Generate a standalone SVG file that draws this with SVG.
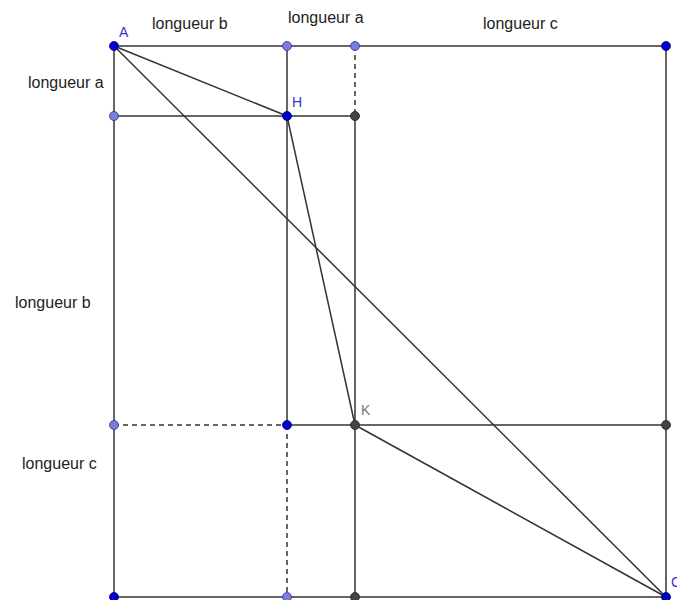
<svg xmlns="http://www.w3.org/2000/svg" width="677" height="600" viewBox="0 0 677 600">
<style>
.ln{stroke:#333;stroke-width:1.5;fill:none}
.ds{stroke:#333;stroke-width:1.5;fill:none;stroke-dasharray:5,4}
.lbl{font-family:"Liberation Sans",Arial,sans-serif;font-size:16px;fill:#222}
.pl{font-family:"Liberation Sans",Arial,sans-serif;font-size:14px}
.pb{fill:#0000cc;stroke:#000066;stroke-width:0.8}
.plb{fill:#7b7be6;stroke:#33337a;stroke-width:0.8}
.pg{fill:#444;stroke:#222;stroke-width:0.8}
</style>
<rect width="677" height="600" fill="#fff"/>
<g id="connectors">
<line class="ln" x1="114" y1="46" x2="666" y2="46"/>
<line class="ln" x1="114" y1="46" x2="114" y2="597"/>
<line class="ln" x1="666" y1="46" x2="666" y2="597"/>
<line class="ln" x1="114" y1="597" x2="666" y2="597"/>
<line class="ln" x1="114" y1="116" x2="355" y2="116"/>
<line class="ln" x1="287" y1="46" x2="287" y2="425"/>
<line class="ds" x1="287" y1="425" x2="287" y2="597"/>
<line class="ds" x1="355" y1="46" x2="355" y2="116"/>
<line class="ln" x1="355" y1="116" x2="355" y2="597"/>
<line class="ds" x1="114" y1="425" x2="287" y2="425"/>
<line class="ln" x1="287" y1="425" x2="666" y2="425"/>
<line class="ln" x1="114" y1="46" x2="287" y2="116"/>
<line class="ln" x1="114" y1="46" x2="666" y2="597"/>
<line class="ln" x1="287" y1="116" x2="355" y2="425"/>
<line class="ln" x1="355" y1="425" x2="666" y2="597"/>
</g>
<g id="labels">
<text class="lbl" x="152" y="29">longueur b</text>
<text class="lbl" x="288" y="23">longueur a</text>
<text class="lbl" x="483" y="29">longueur c</text>
<text class="lbl" x="28" y="88">longueur a</text>
<text class="lbl" x="15" y="308">longueur b</text>
<text class="lbl" x="22" y="469">longueur c</text>
</g>
<g id="A"><circle class="pb" cx="114" cy="46" r="4.5"/><text class="pl" x="119" y="37" fill="#3333cc">A</text></g>
<g id="H"><circle class="pb" cx="287" cy="116" r="4.5"/><text class="pl" x="292" y="107" fill="#3333cc">H</text></g>
<g id="K"><circle class="pg" cx="355" cy="425" r="4.5"/><text class="pl" x="361" y="415" fill="#777">K</text></g>
<g id="C"><circle class="pb" cx="666" cy="597" r="4.5"/><text class="pl" x="671" y="587" fill="#3333cc">C</text></g>
<g id="P1"><circle class="plb" cx="287" cy="46" r="4.5"/></g>
<g id="P2"><circle class="plb" cx="355" cy="46" r="4.5"/></g>
<g id="P3"><circle class="pb" cx="666" cy="46" r="4.5"/></g>
<g id="P4"><circle class="plb" cx="114" cy="116" r="4.5"/></g>
<g id="P5"><circle class="pg" cx="355" cy="116" r="4.5"/></g>
<g id="P6"><circle class="plb" cx="114" cy="425" r="4.5"/></g>
<g id="P7"><circle class="pb" cx="287" cy="425" r="4.5"/></g>
<g id="P8"><circle class="pg" cx="666" cy="425" r="4.5"/></g>
<g id="P9"><circle class="pb" cx="114" cy="597" r="4.5"/></g>
<g id="P10"><circle class="plb" cx="287" cy="597" r="4.5"/></g>
<g id="P11"><circle class="pg" cx="355" cy="597" r="4.5"/></g>
</svg>
